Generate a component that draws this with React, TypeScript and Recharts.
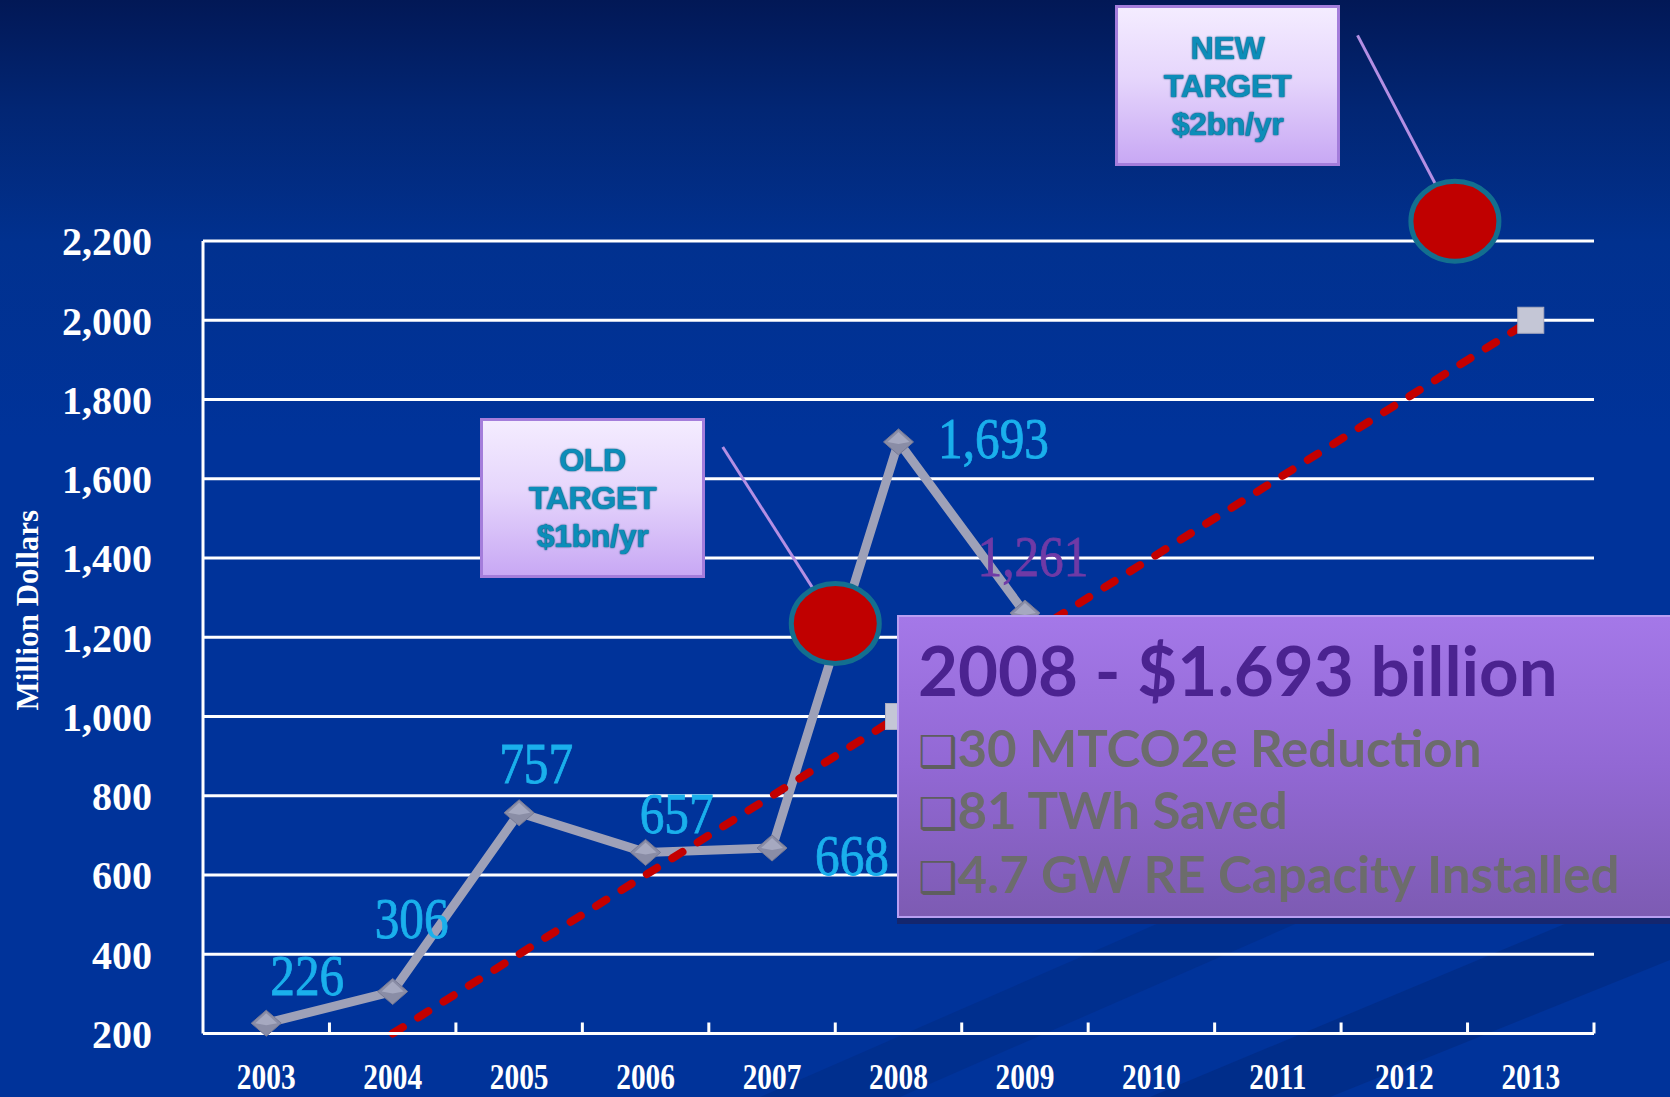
import React from 'react';
import { LineChart, Line, XAxis, YAxis, CartesianGrid, ReferenceDot, ReferenceLine } from 'recharts';

const years = [2003, 2004, 2005, 2006, 2007, 2008, 2009, 2010, 2011, 2012, 2013];
const spending = [226, 306, 757, 657, 668, 1693, 1261, null, null, null, null];
const targetTrend = [null, 200, 400, 600, 800, 1000, 1200, 1400, 1600, 1800, 2000];
const targetPoints = [null, null, null, null, null, 1000, null, null, null, null, 2000];
const yTicks = [200, 400, 600, 800, 1000, 1200, 1400, 1600, 1800, 2000, 2200];

// annotation anchors (data units)
const targetCircles = [
  { x: 2007.5, y: 1235 },
  { x: 2012.4, y: 2250 },
];
const oldConnector = [{ x: 2006.61, y: 1680 }, { x: 2007.5, y: 1235 }];
const newConnector = [{ x: 2011.63, y: 2719 }, { x: 2012.4, y: 2250 }];

const infoTitle = '2008 - $1.693 billion';
const infoBullets = ['30 MTCO2e Reduction', '81 TWh Saved', '4.7 GW RE Capacity Installed'];

// label layout (pixels) and colours
const labelOffsets = [[41, -28], [19, -53], [17, -30], [31, -19], [80, 27], [95, 16], [8, -37]];
const labelColors = ['#1ab0ec', '#1ab0ec', '#1ab0ec', '#1ab0ec', '#1ab0ec', '#1ab0ec', '#6f3aa6'];

const W = 1670;
const H = 1097;
const LEFT = 203;
const RIGHT = 76;
const PLOT_W = W - LEFT - RIGHT;
const HALF_BAND = PLOT_W / (2 * years.length);

const data = years.map((year, i) => ({
  year,
  spending: spending[i],
  trend: targetTrend[i],
  target: targetPoints[i],
}));

const fmt = (v: number) => v.toLocaleString('en-US');

const XTick = (props: any) => {
  const { x, y, payload } = props;
  return (
    <g>
      <line x1={x + HALF_BAND} x2={x + HALF_BAND} y1={y - 37} y2={y - 48} stroke="#fff" strokeWidth={3} />
      <text
        transform={`translate(${x},${y + 18}) scale(0.84,1)`}
        textAnchor="middle"
        fill="#fff"
        fontSize={35}
        fontWeight="bold"
        fontFamily="'Liberation Serif', serif"
      >
        {payload.value}
      </text>
    </g>
  );
};

const YTick = (props: any) => {
  const { x, y, payload } = props;
  return (
    <text x={x} y={y} dy="0.36em" textAnchor="end" fill="#fff" fontSize={40} fontWeight="bold" fontFamily="'Liberation Serif', serif">
      {fmt(payload.value)}
    </text>
  );
};

const YLabel = (props: any) => {
  const vb = props.viewBox || { x: 0, y: 241, width: 203, height: 792 };
  const cx = vb.x + 27;
  const cy = vb.y + vb.height / 2 - 27;
  return (
    <text
      transform={`translate(${cx},${cy}) rotate(-90)`}
      textAnchor="middle"
      dy="0.35em"
      fill="#fff"
      fontSize={31}
      fontWeight="bold"
      fontFamily="'Liberation Serif', serif"
    >
      Million Dollars
    </text>
  );
};

const Diamond = (props: any) => {
  const { cx, cy, value } = props;
  if (value == null || cx == null || cy == null) return null;
  const w = 15;
  const h = 13;
  return (
    <g>
      <polygon points={`${cx},${cy - h} ${cx + w},${cy} ${cx},${cy + h} ${cx - w},${cy}`} fill="#8a8da6" stroke="#777a94" strokeWidth={1} />
      <polygon points={`${cx},${cy - h + 3} ${cx + w - 4},${cy} ${cx},${cy + 2} ${cx - w + 4},${cy}`} fill="#a6a9c0" />
    </g>
  );
};

const Square = (props: any) => {
  const { cx, cy, value } = props;
  if (value == null || cx == null || cy == null) return null;
  return <rect x={cx - 13} y={cy - 13} width={26} height={26} fill="#c4c6d6" stroke="#a9abbf" strokeWidth={1} />;
};

const ValueLabel = (props: any) => {
  const { cx, cy, value, index } = props;
  if (value == null || cx == null || cy == null) return null;
  const off = labelOffsets[index] || [0, -20];
  const color = labelColors[index] || '#1ab0ec';
  return (
    <text
      transform={`translate(${cx + off[0]},${cy + off[1]}) scale(0.88,1)`}
      textAnchor="middle"
      fill={color}
      stroke={color}
      strokeWidth={0.8}
      fontSize={56}
      fontFamily="'Liberation Serif', serif"
    >
      {fmt(value)}
    </text>
  );
};

const Ellipse = (props: any) => {
  const { cx, cy } = props;
  if (cx == null || cy == null) return null;
  return <ellipse cx={cx} cy={cy} rx={44} ry={40} fill="#c00000" stroke="#136f8f" strokeWidth={5} />;
};

const calloutBox: React.CSSProperties = {
  position: 'absolute',
  width: 225,
  height: 160,
  boxSizing: 'border-box',
  border: '3px solid #a47ddb',
  background: 'linear-gradient(180deg, #f4ecff 0%, #e6d6fc 45%, #c8a8f4 100%)',
  display: 'flex',
  flexDirection: 'column',
  alignItems: 'center',
  justifyContent: 'center',
};

const calloutText: React.CSSProperties = {
  color: '#0c8db9',
  fontFamily: "'Liberation Sans', Arial, sans-serif",
  fontWeight: 'bold',
  fontSize: 32,
  lineHeight: '38px',
  letterSpacing: -0.3,
  textShadow: '0 0 2px #05557c, 0 0 1px #05557c',
  textAlign: 'center',
};

const infoLine = (top: number, size: number, color: string): React.CSSProperties => ({
  position: 'absolute',
  left: 918,
  top,
  fontFamily: "Lato, 'DejaVu Sans', sans-serif",
  fontWeight: 'bold',
  fontSize: size,
  lineHeight: 1,
  color,
  whiteSpace: 'nowrap',
});

export default function App() {
  return (
    <div
      style={{
        position: 'relative',
        width: W,
        height: H,
        overflow: 'hidden',
        background: 'linear-gradient(180deg, #021856 0%, #022674 10%, #01318f 22%, #00339a 40%, #00339a 100%)',
      }}
    >
      <style>{`body{margin:0;}`}</style>
      <svg width={W} height={H} style={{ position: 'absolute', left: 0, top: 0 }}>
        <polygon points="760,1097 1670,700 1670,760 900,1097" fill="#002a80" opacity={0.45} />
        <polygon points="1150,1097 1670,880 1670,960 1330,1097" fill="#00287a" opacity={0.5} />
      </svg>
      <div style={{ position: 'absolute', left: 0, top: 0 }}>
        <LineChart width={W} height={H} data={data} margin={{ top: 241, right: RIGHT, bottom: 0, left: 0 }}>
          <CartesianGrid horizontal vertical={false} stroke="#ffffff" strokeWidth={3} />
          <XAxis
            dataKey="year"
            type="number"
            domain={[2002.5, 2013.5]}
            ticks={years}
            interval={0}
            axisLine={{ stroke: '#ffffff', strokeWidth: 3 }}
            tickLine={false}
            tickSize={0}
            tickMargin={37}
            height={63.5}
            tick={<XTick />}
          />
          <YAxis
            type="number"
            domain={[200, 2200]}
            ticks={yTicks}
            interval={0}
            width={LEFT}
            axisLine={{ stroke: '#ffffff', strokeWidth: 3 }}
            tickLine={false}
            tickSize={0}
            tickMargin={51}
            tick={<YTick />}
            label={<YLabel />}
          />
          <Line dataKey="spending" stroke="none" dot={<ValueLabel />} activeDot={false} isAnimationActive={false} />
          <Line
            dataKey="spending"
            stroke="#9ea1b8"
            strokeWidth={9}
            dot={<Diamond />}
            activeDot={false}
            isAnimationActive={false}
          />
          <Line dataKey="target" stroke="none" dot={<Square />} activeDot={false} isAnimationActive={false} />
          <Line
            dataKey="trend"
            stroke="#c40000"
            strokeWidth={8}
            strokeDasharray="12 18"
            strokeLinecap="round"
            dot={false}
            activeDot={false}
            isAnimationActive={false}
          />
          <ReferenceLine segment={oldConnector} stroke="#b48fe3" strokeWidth={3} ifOverflow="visible" />
          <ReferenceLine segment={newConnector} stroke="#b48fe3" strokeWidth={3} ifOverflow="visible" />
          {targetCircles.map((c, i) => (
            <ReferenceDot key={i} x={c.x} y={c.y} r={44} shape={<Ellipse />} ifOverflow="visible" />
          ))}
        </LineChart>
      </div>

      <div style={{ ...calloutBox, left: 480, top: 418 }}>
        <div style={calloutText}>OLD</div>
        <div style={calloutText}>TARGET</div>
        <div style={calloutText}>$1bn/yr</div>
      </div>
      <div style={{ ...calloutBox, left: 1115, top: 5, height: 161 }}>
        <div style={calloutText}>NEW</div>
        <div style={calloutText}>TARGET</div>
        <div style={calloutText}>$2bn/yr</div>
      </div>

      <div
        style={{
          position: 'absolute',
          left: 897,
          top: 615,
          width: 800,
          height: 303,
          boxSizing: 'border-box',
          borderTop: '2px solid #b99ef2',
          borderLeft: '2px solid #b99ef2',
          borderBottom: '2px solid #b99ef2',
          background: 'linear-gradient(180deg, #a478e8 0%, #9268d4 50%, #7d5bb3 100%)',
          boxShadow: '0 6px 0 #14266e',
        }}
      />
      <div style={infoLine(635, 69, '#4b2390')}>{infoTitle}</div>
      {infoBullets.map((b, i) => (
        <div key={i} style={infoLine([722, 784, 848][i], 51, '#6c6c6c')}>
          <span style={{ fontFamily: "'DejaVu Sans', sans-serif", fontSize: 44, color: '#5e5e5e', fontWeight: 'bold' }}>❑</span>
          {b}
        </div>
      ))}
    </div>
  );
}
